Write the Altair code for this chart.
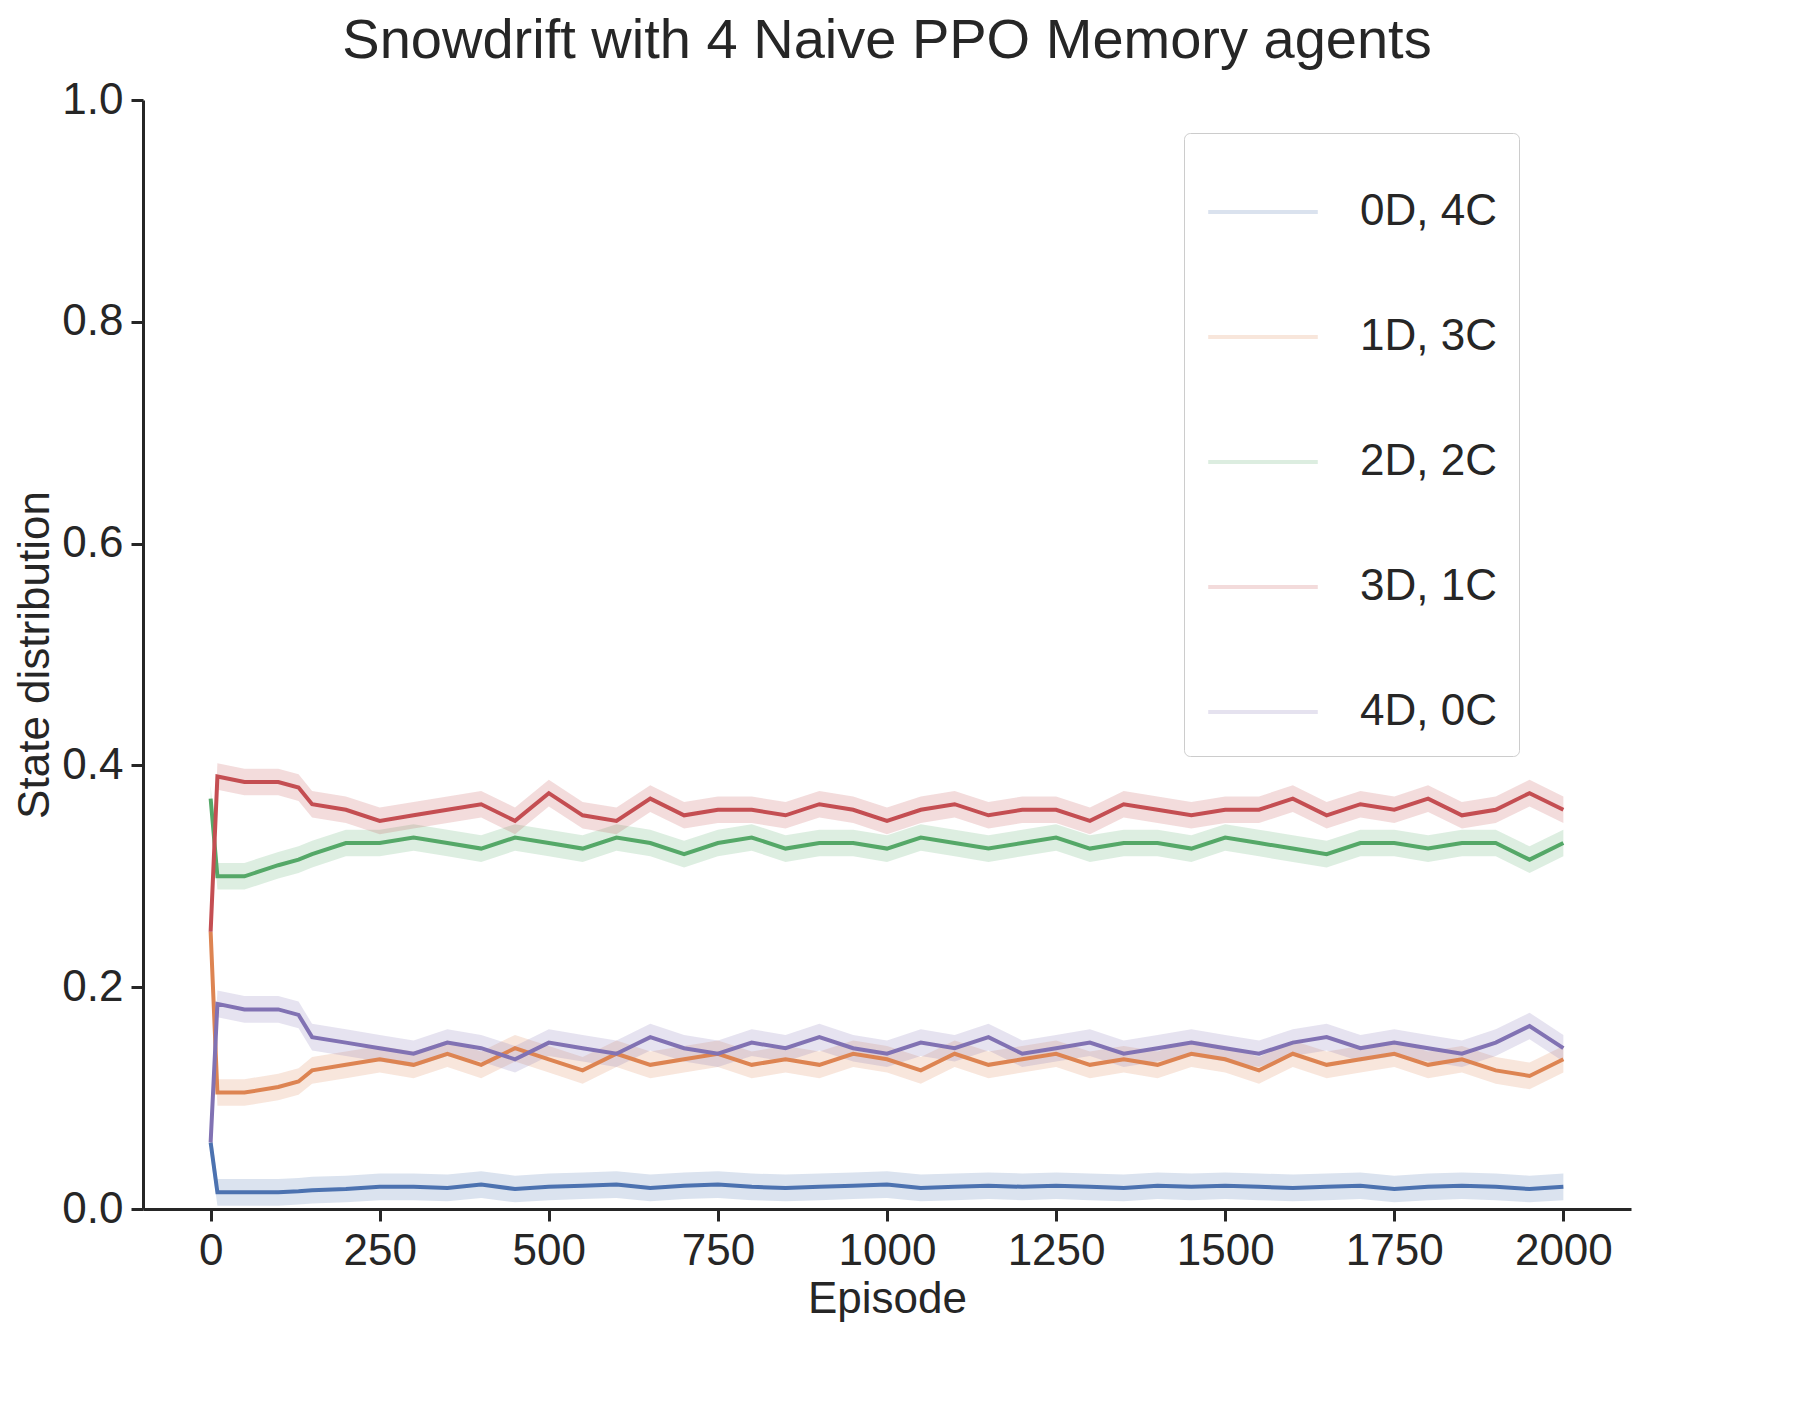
import altair as alt
import pandas as pd

episodes = [0, 10, 50, 100, 130, 150, 200, 250, 300, 350, 400, 450, 500, 550, 600, 650, 700,
            750, 800, 850, 900, 950, 1000, 1050, 1100, 1150, 1200, 1250, 1300, 1350, 1400,
            1450, 1500, 1550, 1600, 1650, 1700, 1750, 1800, 1850, 1900, 1950, 2000]

d0c4 = [0.06, 0.015, 0.015, 0.015, 0.016, 0.017, 0.018, 0.02, 0.02, 0.019, 0.022, 0.018, 0.02,
        0.021, 0.022, 0.019, 0.021, 0.022, 0.02, 0.019, 0.02, 0.021, 0.022, 0.019, 0.02, 0.021,
        0.02, 0.021, 0.02, 0.019, 0.021, 0.02, 0.021, 0.02, 0.019, 0.02, 0.021, 0.018, 0.02,
        0.021, 0.02, 0.018, 0.02]
d1c3 = [0.25, 0.105, 0.105, 0.11, 0.115, 0.125, 0.13, 0.135, 0.13, 0.14, 0.13, 0.145, 0.135,
        0.125, 0.14, 0.13, 0.135, 0.14, 0.13, 0.135, 0.13, 0.14, 0.135, 0.125, 0.14, 0.13,
        0.135, 0.14, 0.13, 0.135, 0.13, 0.14, 0.135, 0.125, 0.14, 0.13, 0.135, 0.14, 0.13,
        0.135, 0.125, 0.12, 0.135]
d2c2 = [0.37, 0.30, 0.30, 0.31, 0.315, 0.32, 0.33, 0.33, 0.335, 0.33, 0.325, 0.335, 0.33,
        0.325, 0.335, 0.33, 0.32, 0.33, 0.335, 0.325, 0.33, 0.33, 0.325, 0.335, 0.33, 0.325,
        0.33, 0.335, 0.325, 0.33, 0.33, 0.325, 0.335, 0.33, 0.325, 0.32, 0.33, 0.33, 0.325,
        0.33, 0.33, 0.315, 0.33]
d3c1 = [0.25, 0.39, 0.385, 0.385, 0.38, 0.365, 0.36, 0.35, 0.355, 0.36, 0.365, 0.35, 0.375,
        0.355, 0.35, 0.37, 0.355, 0.36, 0.36, 0.355, 0.365, 0.36, 0.35, 0.36, 0.365, 0.355,
        0.36, 0.36, 0.35, 0.365, 0.36, 0.355, 0.36, 0.36, 0.37, 0.355, 0.365, 0.36, 0.37,
        0.355, 0.36, 0.375, 0.36]
d4c0 = [0.06, 0.185, 0.18, 0.18, 0.175, 0.155, 0.15, 0.145, 0.14, 0.15, 0.145, 0.135, 0.15,
        0.145, 0.14, 0.155, 0.145, 0.14, 0.15, 0.145, 0.155, 0.145, 0.14, 0.15, 0.145, 0.155,
        0.14, 0.145, 0.15, 0.14, 0.145, 0.15, 0.145, 0.14, 0.15, 0.155, 0.145, 0.15, 0.145,
        0.14, 0.15, 0.165, 0.145]

labels = ["0D, 4C", "1D, 3C", "2D, 2C", "3D, 1C", "4D, 0C"]
series = [d0c4, d1c3, d2c2, d3c1, d4c0]
colors = ["#4c72b0", "#dd8452", "#55a868", "#c44e52", "#8172b3"]

rows = []
for lab, vals in zip(labels, series):
    for e, v in zip(episodes, vals):
        rows.append({"Episode": e, "value": v, "state": lab})
df = pd.DataFrame(rows)

font = "Liberation Sans"
xs = alt.Scale(domain=[-100, 2100], nice=False, zero=False)
ys = alt.Scale(domain=[0, 1], nice=False)
col = alt.Color("state:N", scale=alt.Scale(domain=labels, range=colors),
                legend=alt.Legend(title=None, orient="none", legendX=1041, legendY=33,
                                  symbolType="stroke", symbolSize=12000, symbolStrokeWidth=4,
                                  labelFontSize=44, labelFont=font, labelColor="#262626",
                                  rowPadding=46, padding=22, labelOffset=40,
                                  strokeColor="#cccccc", fillColor="white", cornerRadius=6))

base = alt.Chart(df)
band = base.transform_calculate(
    lo="datum.value - 0.012", hi="datum.value + 0.012"
).mark_area(opacity=0.2).encode(
    x=alt.X("Episode:Q", scale=xs), y=alt.Y("lo:Q", scale=ys), y2="hi:Q",
    color=col,
)
lines = base.mark_line(strokeWidth=4).encode(
    x=alt.X("Episode:Q", scale=xs, title="Episode",
            axis=alt.Axis(values=list(range(0, 2001, 250)), format="d", grid=False)),
    y=alt.Y("value:Q", scale=ys, title="State distribution",
            axis=alt.Axis(values=[0, 0.2, 0.4, 0.6, 0.8, 1.0], format=".1f", grid=False)),
    color=col,
)

chart = (band + lines).properties(
    width=1488, height=1109, background="white",
    title=alt.Title("Snowdrift with 4 Naive PPO Memory agents", fontSize=56,
                    font=font, fontWeight="normal", color="#262626", offset=8),
).configure_axis(
    labelFontSize=44, titleFontSize=44, labelFont=font, titleFont=font,
    labelColor="#262626", titleColor="#262626", titleFontWeight="normal",
    domainColor="#262626", domainWidth=3, tickColor="#262626", tickWidth=3, tickSize=12,
    labelPadding=8,
).configure_view(stroke=None)

chart.save("out.html", embed_options={"renderer": "svg", "actions": False})
